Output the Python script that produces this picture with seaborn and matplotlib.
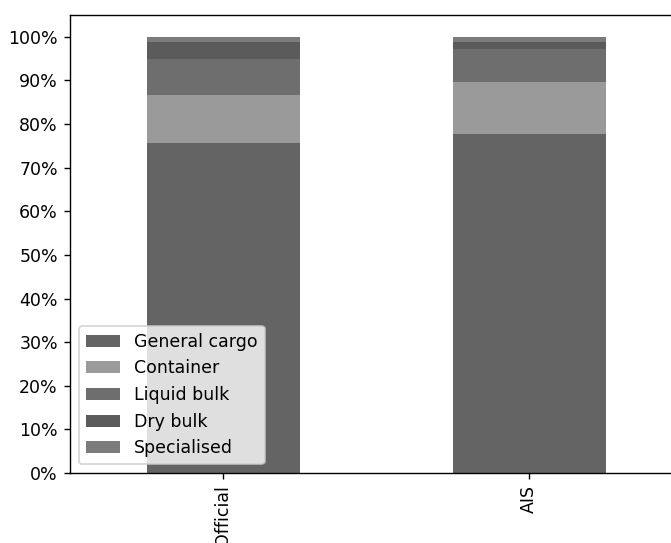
"""
Cargo type share by source - stacked bar chart (Official vs AIS)
"""
import pandas as pd
import matplotlib
matplotlib.use("Agg")
import matplotlib.pyplot as plt
from matplotlib.ticker import PercentFormatter
import seaborn as sns

# ---------------------------------------------------------
# DATA (% share of each cargo type)
# ---------------------------------------------------------
sources = ["Official", "AIS"]
cargo_types = ["General cargo", "Container", "Liquid bulk", "Dry bulk", "Specialised"]
official = [75.6, 11.1, 8.3, 3.9, 1.1]
ais = [77.7, 12.0, 7.5, 1.6, 1.2]
colors = ["#646464", "#9a9a9a", "#6e6e6e", "#5b5b5b", "#7b7b7b"]

df = pd.DataFrame({"Official": official, "AIS": ais}, index=cargo_types)
cum = df.cumsum()

# ---------------------------------------------------------
# PLOT - layered cumulative bars give the stacked look
# ---------------------------------------------------------
fig = plt.figure(figsize=(671 / 125, 543 / 125), dpi=125)
ax = fig.add_axes([70 / 671, 70 / 543, 612 / 671, 458 / 543])

for cargo, col in reversed(list(zip(cargo_types, colors))):
    long = pd.DataFrame({"source": sources, "share": cum.loc[cargo, sources].values})
    sns.barplot(data=long, x="source", y="share", color=col, width=0.5,
                saturation=1, errorbar=None, label=cargo, ax=ax)

handles, labels = ax.get_legend_handles_labels()
ax.legend(handles[::-1], labels[::-1], loc="lower left")

ax.set_ylim(0, 105)
ax.set_yticks(range(0, 101, 10))
ax.yaxis.set_major_formatter(PercentFormatter(decimals=0))
ax.set_xlim(-0.5, 1.5)
ax.set_xlabel("")
ax.set_ylabel("")
ax.tick_params(axis="x", rotation=90)

plt.savefig("out.png", dpi=125)
plt.close()
